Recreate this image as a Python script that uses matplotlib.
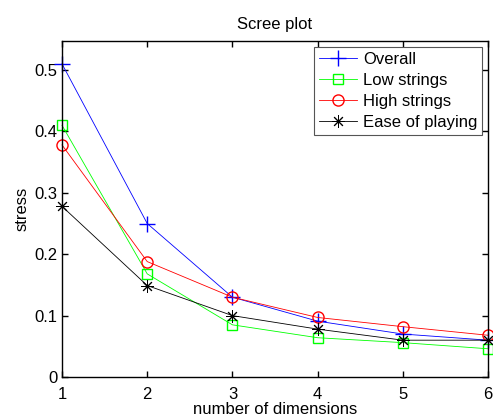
import matplotlib.pyplot as plt

plt.rcParams["font.family"] = ["Liberation Sans", "DejaVu Sans"]

dimensions = [1, 2, 3, 4, 5, 6]
overall = [0.51, 0.25, 0.13, 0.091, 0.070, 0.060]
low_strings = [0.41, 0.168, 0.085, 0.064, 0.056, 0.046]
high_strings = [0.378, 0.188, 0.130, 0.097, 0.082, 0.068]
ease_of_playing = [0.278, 0.149, 0.100, 0.078, 0.060, 0.060]

fig = plt.figure(figsize=(4.93, 4.16), dpi=100)
ax = fig.add_axes([0.1258, 0.0937, 0.8642, 0.8073])

# matlab-like asterisk: plus and cross together
asterisk = (8, 2, 0)

ax.plot(dimensions, overall, color=(0, 0, 1), marker="+", markersize=11,
        linewidth=0.6, label="Overall", clip_on=False)
ax.plot(dimensions, low_strings, color=(0, 1, 0), marker="s", markersize=7,
        markerfacecolor="none", linewidth=0.6, label="Low strings", clip_on=False)
ax.plot(dimensions, high_strings, color=(1, 0, 0), marker="o", markersize=8,
        markerfacecolor="none", linewidth=0.6, label="High strings", clip_on=False)
ax.plot(dimensions, ease_of_playing, color="black", marker=asterisk, markersize=9,
        markeredgewidth=0.7, linewidth=0.6, label="Ease of playing", clip_on=False)

ax.set_xlim(1, 6)
ax.set_ylim(0, 0.547)
ax.set_xticks(dimensions)
ax.set_yticks([0, 0.1, 0.2, 0.3, 0.4, 0.5])
ax.set_yticklabels(["0", "0.1", "0.2", "0.3", "0.4", "0.5"])
ax.tick_params(direction="in", length=4, width=1, top=True, right=True,
               labelsize=12)
ax.tick_params(axis="x", pad=7)
ax.tick_params(axis="y", pad=3)
for spine in ax.spines.values():
    spine.set_linewidth(1)

ax.set_title("Scree plot", fontsize=12, pad=9)
ax.set_xlabel("number of dimensions", fontsize=12, labelpad=0)
ax.set_ylabel("stress", fontsize=12, labelpad=4)

leg = ax.legend(loc="upper right", fontsize=12, fancybox=False,
                borderaxespad=0.35, handlelength=2.3, handletextpad=0.35,
                labelspacing=0.35, borderpad=0.3, framealpha=1)
leg.get_frame().set_edgecolor("#555555")
leg.get_frame().set_linewidth(0.8)

fig.savefig("out.png", dpi=100)
